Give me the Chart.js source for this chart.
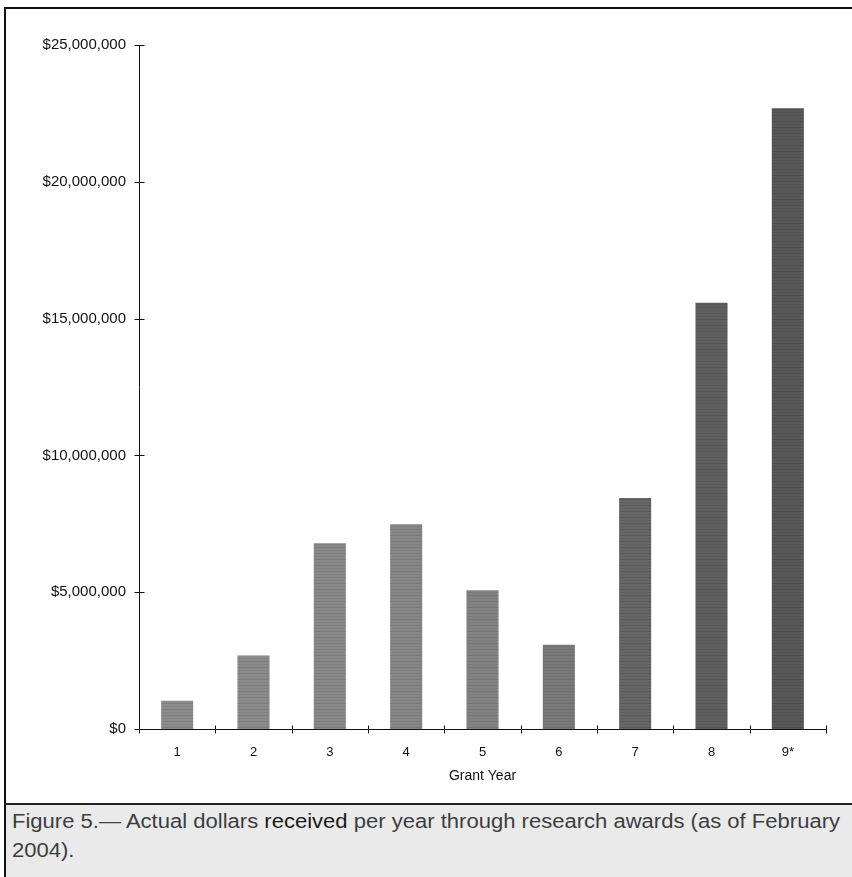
<!DOCTYPE html>
<html>
<head>
<meta charset="utf-8">
<script src="https://cdn.jsdelivr.net/npm/chart.js@4/dist/chart.umd.min.js"></script>
<style>
  html, body { margin: 0; padding: 0; background: #ffffff; }
  #frame {
    position: absolute; left: 0; top: 0; width: 852px; height: 877px;
    overflow: hidden; background: #ffffff;
  }
  #chartBox { position: absolute; left: 0; top: 0; width: 852px; height: 805px; }
  #topRule { position: absolute; left: 4px; top: 7px; width: 848px; height: 2px; background: #111; }
  #leftRule { position: absolute; left: 4px; top: 7px; width: 2px; height: 870px; background: #111; }
  #midRule { position: absolute; left: 4px; top: 803px; width: 848px; height: 2px; background: #222; }
  #caption {
    position: absolute; left: 6px; top: 805px; width: 846px; height: 72px;
    background: #eaeaea;
  }
  .capLine {
    position: absolute; left: 6px; white-space: nowrap;
    font-family: "Liberation Sans", Arial, sans-serif; font-size: 19.5px;
    color: #3e3e3e; transform-origin: 0 50%;
  }
  .dark { color: #1a1a1a; }
</style>
</head>
<body>
<div id="frame">
  <div id="chartBox"><canvas id="chart" width="852" height="805"></canvas></div>
  <div id="topRule"></div>
  <div id="leftRule"></div>
  <div id="midRule"></div>
  <div id="caption">
    <div class="capLine" id="cap1" style="top:5px;">Figure 5.— Actual dollars <span class="dark">received</span> per year through research awards (as of February</div>
    <div class="capLine" id="cap2" style="top:34px;">2004).</div>
  </div>
</div>
<script>
// Grant years and dollars received in each year
const grantYears = ['1', '2', '3', '4', '5', '6', '7', '8', '9*'];
const dollarsReceived = [1030000, 2690000, 6790000, 7480000, 5070000, 3080000, 8440000, 15580000, 22690000];
const yTickValues = [0, 5000000, 10000000, 15000000, 20000000, 25000000];
const barShades = ['#8d8d8d', '#8b8b8b', '#898989', '#878787', '#838383', '#7a7a7a', '#666666', '#5f5f5f', '#585858'];

function moneyLabel(v) {
  return '$' + Math.round(v).toString().replace(/\B(?=(\d{3})+(?!\d))/g, ',');
}

// Horizontal streak texture for the bar fills
function streakPattern(base) {
  const c = document.createElement('canvas');
  c.width = 8; c.height = 6;
  const g = c.getContext('2d');
  g.fillStyle = base; g.fillRect(0, 0, 8, 6);
  g.fillStyle = 'rgba(0,0,0,0.10)';
  g.fillRect(0, 1, 8, 1);
  g.fillStyle = 'rgba(0,0,0,0.06)';
  g.fillRect(0, 4, 8, 1);
  return g.createPattern(c, 'repeat');
}

// Small cross ticks on both axes, placed with the chart's own scales
const crossTicks = {
  id: 'crossTicks',
  afterDraw(chart) {
    const ctx = chart.ctx;
    const x = chart.scales.x, y = chart.scales.y;
    ctx.save();
    ctx.strokeStyle = '#111';
    ctx.lineWidth = 1;
    const axisX = chart.chartArea.left + 0.5;
    const axisY = chart.chartArea.bottom + 0.5;
    y.ticks.forEach((t) => {
      const py = Math.round(y.getPixelForValue(t.value)) + 0.5;
      ctx.beginPath(); ctx.moveTo(axisX - 5, py); ctx.lineTo(axisX + 5, py); ctx.stroke();
    });
    for (let i = 0; i <= grantYears.length; i++) {
      const px = Math.round(x.getPixelForValue(i - 0.5)) + 0.5;
      ctx.beginPath(); ctx.moveTo(px, axisY - 4); ctx.lineTo(px, axisY + 4); ctx.stroke();
    }
    ctx.restore();
  }
};

const ctx = document.getElementById('chart').getContext('2d');
new Chart(ctx, {
  type: 'bar',
  data: {
    labels: grantYears,
    datasets: [{
      data: dollarsReceived,
      backgroundColor: barShades.map(streakPattern),
      borderWidth: 0,
      categoryPercentage: 1.0,
      barPercentage: 0.42
    }]
  },
  options: {
    responsive: false,
    animation: false,
    events: [],
    layout: { padding: { left: 0, right: 26, top: 45, bottom: 0 } },
    plugins: { legend: { display: false }, tooltip: { enabled: false } },
    scales: {
      x: {
        offset: true,
        grid: { display: false, drawTicks: false },
        border: { display: true, color: '#111', width: 1 },
        ticks: {
          color: '#111', padding: 16,
          font: { family: '"Liberation Sans", Arial, sans-serif', size: 13 }
        },
        title: {
          display: true, text: 'Grant Year', color: '#111',
          padding: { top: 0, bottom: 20 },
          font: { family: '"Liberation Sans", Arial, sans-serif', size: 14 }
        },
        afterFit(scale) { scale.height = 76; }
      },
      y: {
        min: 0, max: 25000000,
        afterBuildTicks(scale) { scale.ticks = yTickValues.map((v) => ({ value: v })); },
        grid: { display: false, drawTicks: false },
        border: { display: true, color: '#111', width: 1 },
        ticks: {
          color: '#111', padding: 13,
          font: { family: '"Liberation Sans", Arial, sans-serif', size: 15 },
          callback: (v) => moneyLabel(v)
        },
        afterFit(scale) { scale.width = 139; }
      }
    }
  },
  plugins: [crossTicks]
});

// Fit the first caption line to the caption band width
const cap1 = document.getElementById('cap1');
const cap2 = document.getElementById('cap2');
const w = cap1.getBoundingClientRect().width;
const s = 828 / w;
cap1.style.transform = 'scaleX(' + s + ')';
cap2.style.transform = 'scaleX(' + s + ')';
</script>
</body>
</html>
